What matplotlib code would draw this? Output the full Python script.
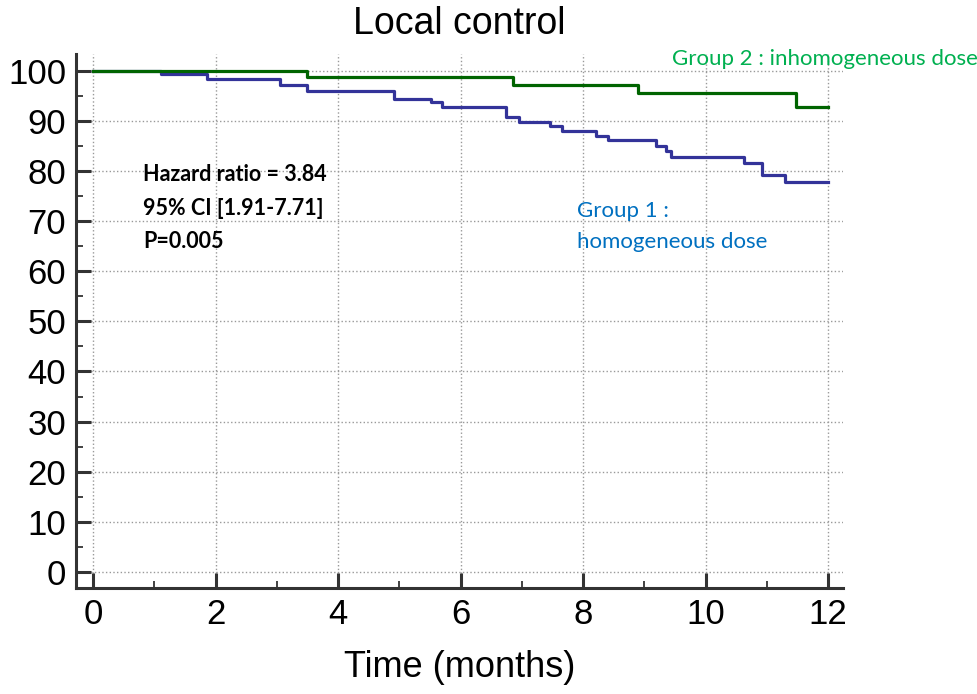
import numpy as np
import matplotlib
matplotlib.use("Agg")
import matplotlib.pyplot as plt
from matplotlib.ticker import MultipleLocator

# Kaplan-Meier step values (time in months, % local control)
g2_time = [0, 3.50, 6.85, 8.89, 11.47, 12.0]
g2_surv = [100, 98.7, 97.1, 95.5, 92.8, 92.8]

g1_time = [0, 1.11, 1.86, 3.05, 3.49, 4.92, 5.51, 5.69, 6.74, 6.96, 7.46, 7.66,
           8.21, 8.41, 9.19, 9.35, 9.43, 10.62, 10.93, 11.30, 12.0]
g1_surv = [100, 99.4, 98.3, 97.1, 96.0, 94.4, 93.7, 92.8, 90.8, 89.8, 88.9, 87.9,
           86.9, 86.1, 85.0, 83.9, 82.7, 81.5, 79.1, 77.7, 77.7]

stats_lines = ["Hazard ratio = 3.84", "95% CI [1.91-7.71]", "P=0.005"]

fig = plt.figure(figsize=(9.78, 6.94), dpi=100)
ax = fig.add_axes([0.0777, 0.1527, 0.7843, 0.7693])

ax.step(g1_time, g1_surv, where="post", color="#333399", lw=2.3, zorder=3)
ax.step(g2_time, g2_surv, where="post", color="#006400", lw=2.3, zorder=4)

ax.set_xlim(-0.278, 12.245)
ax.set_ylim(-3.2, 103.3)
ax.xaxis.set_major_locator(MultipleLocator(2))
ax.xaxis.set_minor_locator(MultipleLocator(1))
ax.yaxis.set_major_locator(MultipleLocator(10))
ax.yaxis.set_minor_locator(MultipleLocator(5))

for s in ["top", "right"]:
    ax.spines[s].set_visible(False)
for s in ["left", "bottom"]:
    ax.spines[s].set_linewidth(2.2)
    ax.spines[s].set_color("#333333")

ax.tick_params(which="major", direction="in", length=11, width=2.2, color="#333333",
               labelsize=25, pad=7)
ax.tick_params(which="minor", direction="in", length=5, width=1.3, color="#333333")
for lab in ax.get_xticklabels() + ax.get_yticklabels():
    lab.set_fontfamily("Liberation Sans")

ax.grid(which="major", ls=":", color="#999999", lw=1.0)
ax.set_axisbelow(True)

ax.set_xlabel("Time (months)", fontsize=26, family="Liberation Sans", labelpad=14)
fig.text(0.47, 0.992, "Local control", ha="center", va="top", fontsize=27,
         family="Liberation Sans")

for i, line in enumerate(stats_lines):
    ax.text(0.82, 79.3 - i * 6.7, line, fontsize=15.5, fontweight="bold",
            family="Lato", va="center", ha="left")

ax.text(7.90, 68.9, "Group 1 :\nhomogeneous dose", fontsize=16, family="Lato",
        color="#0070C0", va="center", ha="left", linespacing=1.65)
ax.text(9.45, 102.4, "Group 2 : inhomogeneous dose", fontsize=16, family="Lato",
        color="#00B050", va="center", ha="left", clip_on=False)

fig.savefig("out.png", dpi=100)
